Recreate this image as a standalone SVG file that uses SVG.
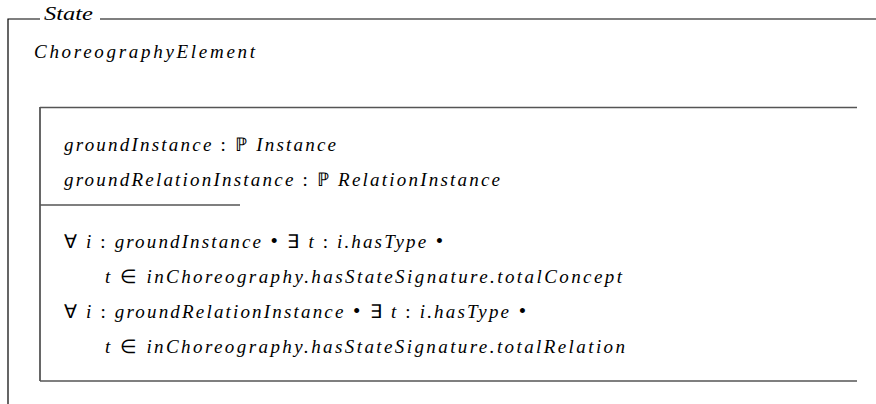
<svg xmlns="http://www.w3.org/2000/svg" width="876" height="404" viewBox="0 0 876 404">
<style>
.ln{stroke:#000;stroke-width:1.2;fill:none}
.ln2{stroke:#555;stroke-width:1.4;fill:none}
.t{font-family:"Liberation Serif","Times New Roman",serif;font-size:19px;font-style:italic;fill:#000}
.u{font-style:normal}
.b{font-style:normal;font-size:21px}
</style>
<rect width="876" height="404" fill="#fff"/>
<g id="outer">
<path class="ln" d="M8,404 V19 H40 M100,19 H876"/>
<text class="t" x="44" y="20" textLength="49" lengthAdjust="spacingAndGlyphs">State</text>
<text class="t" x="34" y="58" textLength="221" lengthAdjust="spacing">ChoreographyElement</text>
</g>
<g id="inner">
<path class="ln" d="M40,381 V107"/>
<path class="ln2" d="M40,107.5 H857 M40,205 H240 M40,381 H857"/>
<text class="t" x="64" y="151" textLength="272" lengthAdjust="spacing">groundInstance<tspan class="u"> : ℙ </tspan>Instance</text>
<text class="t" x="64" y="186" textLength="436" lengthAdjust="spacing">groundRelationInstance<tspan class="u"> : ℙ </tspan>RelationInstance</text>
<text class="t" x="64" y="248" textLength="379" lengthAdjust="spacing"><tspan class="u">∀ </tspan>i<tspan class="u"> : </tspan>groundInstance<tspan class="b"> • </tspan><tspan class="u">∃ </tspan>t<tspan class="u"> : </tspan>i.hasType<tspan class="b"> •</tspan></text>
<text class="t" x="105" y="283" textLength="517" lengthAdjust="spacing">t<tspan class="u"> ∈ </tspan>inChoreography.hasStateSignature.totalConcept</text>
<text class="t" x="64" y="318" textLength="462" lengthAdjust="spacing"><tspan class="u">∀ </tspan>i<tspan class="u"> : </tspan>groundRelationInstance<tspan class="b"> • </tspan><tspan class="u">∃ </tspan>t<tspan class="u"> : </tspan>i.hasType<tspan class="b"> •</tspan></text>
<text class="t" x="105" y="353" textLength="520" lengthAdjust="spacing">t<tspan class="u"> ∈ </tspan>inChoreography.hasStateSignature.totalRelation</text>
</g>
</svg>
